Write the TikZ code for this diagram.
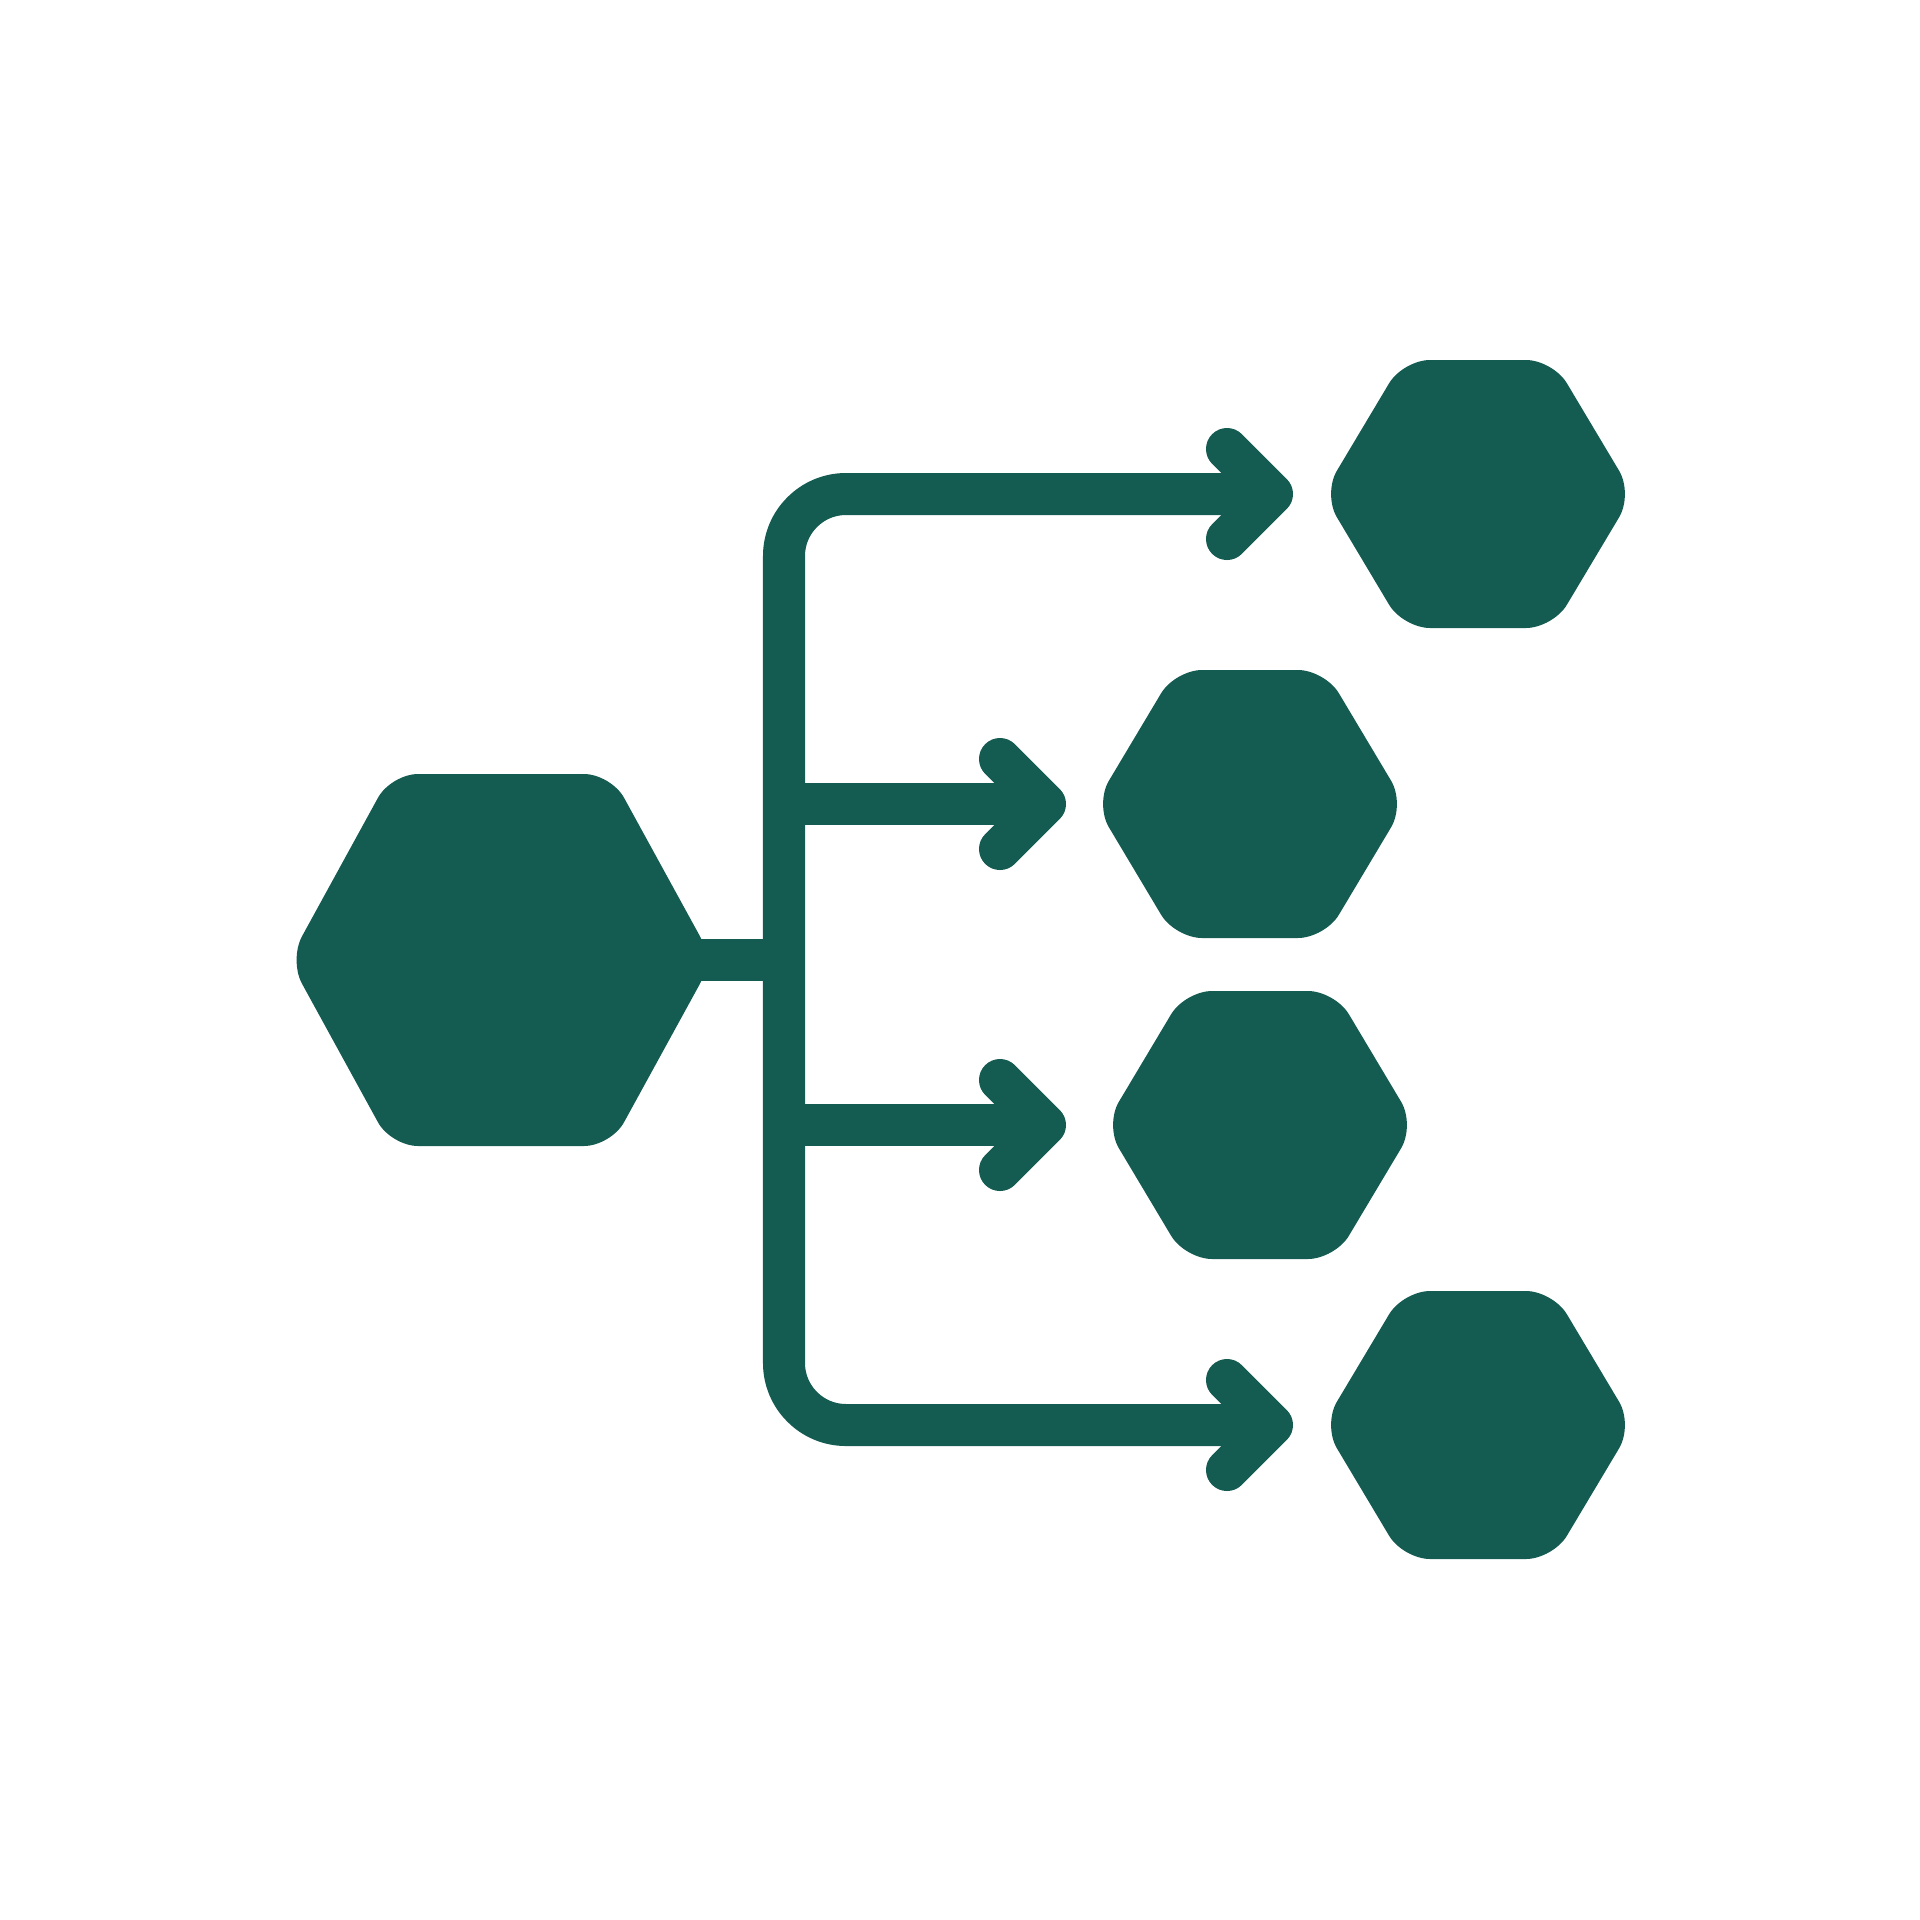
\documentclass[tikz,border=0pt]{standalone}
\definecolor{iconteal}{HTML}{145C52}
\begin{document}
\begin{tikzpicture}[x=0.01cm, y=-0.01cm,
    wire/.style={draw=iconteal, line width=0.42cm},
    chevron/.style={wire, line cap=round, line join=round},
    hexfill/.style={fill=iconteal, rounded corners=0.27cm}]
  \useasboundingbox (0,0) rectangle (1920,1920);

  % source hexagon
  \begin{scope}[shift={(501,960)}]
    \fill[hexfill] (-212,0) -- (-110,-186) -- (110,-186) -- (212,0)
      -- (110,186) -- (-110,186) -- cycle;
  \end{scope}

  % target hexagons
  \foreach \cx/\cy in {1478/494, 1250/804, 1260/1125, 1478/1425} {
    \begin{scope}[shift={(\cx,\cy)}]
      \fill[hexfill] (-155,0) -- (-75,-134) -- (75,-134) -- (155,0)
        -- (75,134) -- (-75,134) -- cycle;
    \end{scope}
  }

  % hub and arrow points
  \coordinate (hub) at (784,960);
  \coordinate (a1) at (1272,494);
  \coordinate (a2) at (1045,804);
  \coordinate (a3) at (1045,1125);
  \coordinate (a4) at (1272,1425);

  % connectors
  \draw[wire] (680,960) -- (hub);
  \draw[wire, rounded corners=0.62cm] (a1) -- (hub |- a1) -- (hub |- a4) -- (a4);
  \draw[wire] (hub |- a2) -- (a2);
  \draw[wire] (hub |- a3) -- (a3);

  % arrow heads
  \foreach \p in {a1,a2,a3,a4} {
    \draw[chevron] ([shift={(-45,-45)}]\p) -- (\p) -- ([shift={(-45,45)}]\p);
  }
\end{tikzpicture}
\end{document}
